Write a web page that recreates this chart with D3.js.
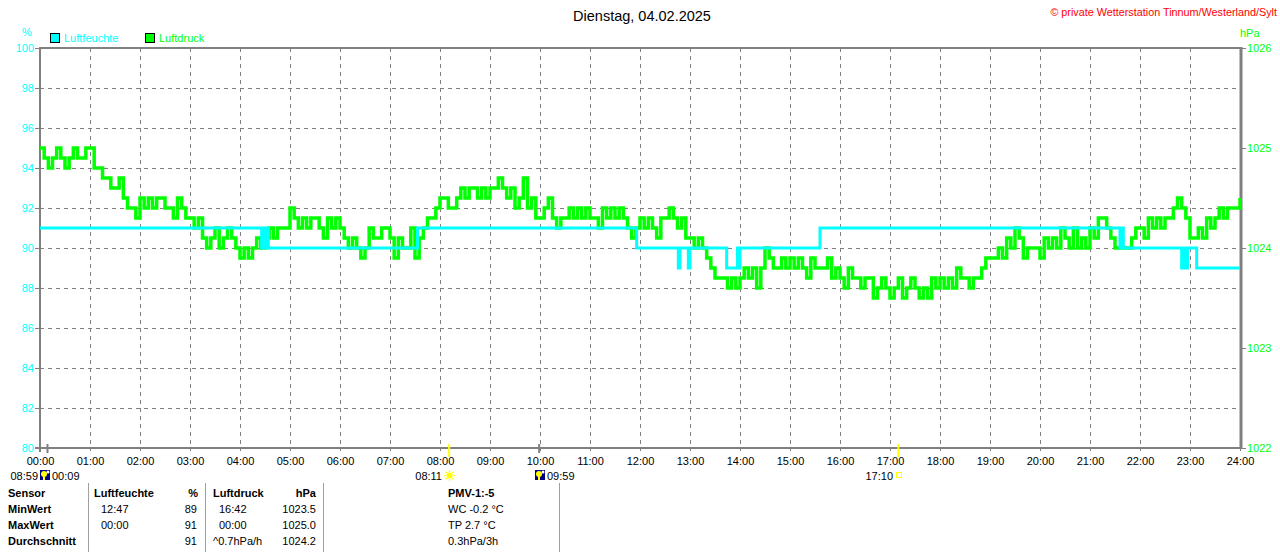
<!DOCTYPE html>
<html><head><meta charset="utf-8">
<script src="https://cdn.jsdelivr.net/npm/d3@7/dist/d3.min.js"></script>
<style>
html,body{margin:0;padding:0;background:#fff;}
svg{display:block;font-family:"Liberation Sans",Arial,sans-serif;}
</style></head>
<body>
<svg id="c" width="1280" height="552"></svg>
<script>
// ---------- DATA ----------
const titleText = "Dienstag, 04.02.2025";
const copyrightText = "\u00A9 private Wetterstation Tinnum/Westerland/Sylt";
const seriesNames = ["Luftfeuchte", "Luftdruck"];
const humTicks = [80,82,84,86,88,90,92,94,96,98,100];
const presTicks = [1022,1023,1024,1025,1026];
const hourMinutes = [0,60,120,180,240,300,360,420,480,540,600,660,720,780,840,900,960,1020,1080,1140,1200,1260,1320,1380,1440];
const hourLabels = ["00:00","01:00","02:00","03:00","04:00","05:00","06:00","07:00","08:00","09:00","10:00","11:00","12:00","13:00","14:00","15:00","16:00","17:00","18:00","19:00","20:00","21:00","22:00","23:00","24:00"];

// Luftdruck (hPa), one value every 5 minutes from 00:00 to 24:00
const pressure = [
1025.0,1024.9,1024.8,1024.9,1025.0,1024.9,1024.8,1024.9,1025.0,1024.9,1024.9,1025.0,
1025.0,1024.8,1024.8,1024.7,1024.7,1024.6,1024.6,1024.7,1024.5,1024.4,1024.4,1024.3,
1024.5,1024.4,1024.5,1024.4,1024.5,1024.5,1024.4,1024.4,1024.3,1024.5,1024.4,1024.3,
1024.3,1024.2,1024.3,1024.1,1024.0,1024.1,1024.2,1024.0,1024.1,1024.2,1024.1,1024.0,
1023.9,1024.0,1023.9,1024.0,1024.1,1024.0,1024.1,1024.2,1024.1,1024.2,1024.2,1024.2,
1024.4,1024.3,1024.2,1024.3,1024.2,1024.3,1024.3,1024.2,1024.1,1024.3,1024.2,1024.3,
1024.2,1024.1,1024.0,1024.1,1024.0,1023.9,1024.0,1024.2,1024.1,1024.1,1024.2,1024.2,
1024.1,1023.9,1024.1,1024.0,1024.0,1024.2,1023.9,1024.1,1024.2,1024.3,1024.3,1024.4,
1024.5,1024.5,1024.4,1024.4,1024.5,1024.6,1024.5,1024.6,1024.6,1024.5,1024.6,1024.5,
1024.6,1024.6,1024.7,1024.6,1024.5,1024.6,1024.4,1024.5,1024.7,1024.4,1024.5,1024.3,
1024.3,1024.4,1024.5,1024.3,1024.2,1024.3,1024.3,1024.4,1024.3,1024.4,1024.3,1024.4,
1024.3,1024.3,1024.2,1024.4,1024.3,1024.4,1024.3,1024.4,1024.3,1024.2,1024.1,1024.2,
1024.3,1024.2,1024.3,1024.2,1024.1,1024.3,1024.3,1024.4,1024.3,1024.2,1024.3,1024.1,
1024.1,1024.0,1024.1,1024.0,1023.9,1023.8,1023.7,1023.7,1023.7,1023.6,1023.7,1023.6,
1023.7,1023.8,1023.7,1023.8,1023.6,1023.8,1024.0,1023.9,1023.8,1023.8,1023.9,1023.8,
1023.9,1023.8,1023.9,1023.8,1023.7,1023.9,1023.8,1023.8,1023.8,1023.9,1023.7,1023.8,
1023.7,1023.6,1023.8,1023.7,1023.7,1023.6,1023.7,1023.7,1023.5,1023.6,1023.7,1023.6,
1023.5,1023.6,1023.7,1023.5,1023.6,1023.7,1023.6,1023.5,1023.6,1023.5,1023.7,1023.6,
1023.7,1023.6,1023.7,1023.6,1023.8,1023.7,1023.7,1023.6,1023.7,1023.7,1023.8,1023.9,
1023.9,1023.9,1024.0,1023.9,1024.1,1024.0,1024.2,1024.1,1023.9,1024.0,1024.0,1024.0,
1023.9,1024.1,1024.0,1024.1,1024.0,1024.2,1024.1,1024.0,1024.2,1024.0,1024.1,1024.0,
1024.2,1024.1,1024.3,1024.3,1024.2,1024.1,1024.0,1024.0,1024.0,1024.0,1024.1,1024.2,
1024.2,1024.1,1024.3,1024.2,1024.3,1024.2,1024.3,1024.3,1024.4,1024.5,1024.4,1024.3,
1024.1,1024.1,1024.2,1024.1,1024.3,1024.2,1024.3,1024.4,1024.3,1024.4,1024.4,1024.4,
1024.5
];

// Luftfeuchte (%), step changes: time of change and new value
const humTimes = ["00:00","04:26","04:28","04:30","04:32","04:34","07:33","07:35","11:56","12:46","12:48","12:58","13:00","13:44","13:57","13:58","14:00","15:36","21:36","21:38","21:40","22:50","22:52","22:55","22:57","23:08","24:00"];
const humValues = [91,90,91,90,91,90,91,91,90,89,90,89,90,89,90,89,90,91,90,91,90,89,90,89,90,89,89];

// Sun / moon events under the time axis
const moonEvents = ["00:09","09:59"];
const sunEvents = ["08:11","17:10"];

// Summary table
const tableCols = ["Sensor","Luftfeuchte","%","Luftdruck","hPa","PMV-1:-5"];
const rowNames = ["MinWert","MaxWert","Durchschnitt"];
const humTime = ["12:47","00:00",""];
const humVal = ["89","91","91"];
const presTime = ["16:42","00:00","^0.7hPa/h"];
const presVal = ["1023.5","1025.0","1024.2"];
const extraInfo = ["WC -0.2 \u00B0C","TP 2.7 \u00B0C","0.3hPa/3h"];

// ---------- DRAW ----------
const toMin = s => { const [h,m] = s.split(":").map(Number); return h*60+m; };
const svg = d3.select("#c");
const L = 40, R = 1240, T = 48, B = 448;
const cyan = "#00ffff", green = "#00ff00", grey = "#808080";

const x = d3.scaleLinear().domain([0,1440]).range([L,R]);
const yH = d3.scaleLinear().domain([80,100]).range([B,T]);
const yP = d3.scaleLinear().domain([1022,1026]).range([B,T]);

// title and copyright
svg.append("text").attr("x",642).attr("y",21).attr("text-anchor","middle")
  .attr("font-size",14.5).attr("fill","#000").text(titleText);
svg.append("text").attr("x",1277).attr("y",16).attr("text-anchor","end")
  .attr("font-size",10.8).attr("fill","#ff0000").text(copyrightText);

// unit labels
svg.append("text").attr("x",27).attr("y",36).attr("text-anchor","middle")
  .attr("font-size",11).attr("fill",cyan).text("%");
svg.append("text").attr("x",1240).attr("y",37)
  .attr("font-size",11).attr("fill",green).text("hPa");

// legend
const lg = [{x:50,c:cyan,t:seriesNames[0]},{x:145,c:green,t:seriesNames[1]}];
lg.forEach(d=>{
  svg.append("rect").attr("x",d.x+0.5).attr("y",33.5).attr("width",9).attr("height",9)
    .attr("fill",d.c).attr("stroke","#000").attr("stroke-width",1);
  svg.append("text").attr("x",d.x+14).attr("y",42).attr("font-size",11)
    .attr("fill",d.c).text(d.t);
});

// gridlines
const grid = svg.append("g");
humTicks.filter(v=>v>80 && v<100).forEach(v=>{
  grid.append("line").attr("x1",L).attr("x2",R).attr("y1",yH(v)+0.5).attr("y2",yH(v)+0.5)
    .attr("stroke",grey).attr("stroke-dasharray","4,4");
});
hourMinutes.filter(m=>m>0 && m<1440).forEach(m=>{
  grid.append("line").attr("x1",x(m)+0.5).attr("x2",x(m)+0.5).attr("y1",T).attr("y2",B)
    .attr("stroke",grey).attr("stroke-dasharray","4,4");
});

// axes
const axL = svg.append("g").attr("transform",`translate(${L},0)`)
  .call(d3.axisLeft(yH).tickValues(humTicks).tickSize(5).tickPadding(1).tickFormat(d3.format("d")));
axL.select(".domain").remove();
axL.selectAll("line").attr("stroke",grey);
axL.selectAll("text").attr("fill",cyan).attr("font-size",11).attr("font-family","Liberation Sans, Arial");

const axR = svg.append("g").attr("transform",`translate(${R},0)`)
  .call(d3.axisRight(yP).tickValues(presTicks).tickSize(6).tickPadding(1).tickFormat(d3.format("d")));
axR.select(".domain").remove();
axR.selectAll("line").attr("stroke",grey);
axR.selectAll("text").attr("fill",green).attr("font-size",11).attr("font-family","Liberation Sans, Arial");

const axB = svg.append("g").attr("transform",`translate(0,${B})`)
  .call(d3.axisBottom(x).tickValues(hourMinutes).tickSize(3).tickPadding(6).tickFormat((d,i)=>hourLabels[i]));
axB.select(".domain").remove();
axB.selectAll("line").attr("stroke",grey);
axB.selectAll("text").attr("fill","#000").attr("font-size",11).attr("font-family","Liberation Sans, Arial");

// frame
svg.append("line").attr("x1",L).attr("x2",R+1).attr("y1",T).attr("y2",T).attr("stroke",grey).attr("stroke-width",2);
svg.append("line").attr("x1",L).attr("x2",L).attr("y1",T-1).attr("y2",B+4).attr("stroke",grey).attr("stroke-width",2);
svg.append("line").attr("x1",R+1).attr("x2",R+1).attr("y1",T-1).attr("y2",B+1).attr("stroke",grey).attr("stroke-width",3);
svg.append("line").attr("x1",L-5).attr("x2",R+2).attr("y1",B).attr("y2",B).attr("stroke",grey).attr("stroke-width",2);

// data lines
const pData = pressure.map((v,i)=>({t:i*5,v}));
svg.append("path").datum(pData)
  .attr("d", d3.line().x(d=>x(d.t)).y(d=>yP(d.v)).curve(d3.curveStepAfter))
  .attr("fill","none").attr("stroke",green).attr("stroke-width",3.5);

const hData = humTimes.map((s,i)=>({t:toMin(s),v:humValues[i]}));
svg.append("path").datum(hData)
  .attr("d", d3.line().x(d=>x(d.t)).y(d=>yH(d.v)).curve(d3.curveStepAfter))
  .attr("fill","none").attr("stroke",cyan).attr("stroke-width",3);

// sun / moon markers
moonEvents.forEach(s=>{
  const px = x(toMin(s));
  svg.append("line").attr("x1",px).attr("x2",px).attr("y1",B-4).attr("y2",B+5).attr("stroke",grey).attr("stroke-width",2);
});
sunEvents.forEach(s=>{
  const px = x(toMin(s));
  svg.append("line").attr("x1",px).attr("x2",px).attr("y1",B-4).attr("y2",B+9).attr("stroke","#ffff00").attr("stroke-width",2);
});
function moonIcon(px){
  const g = svg.append("g").attr("transform",`translate(${px},470)`);
  g.append("rect").attr("width",10).attr("height",10).attr("fill","#000080");
  g.append("circle").attr("cx",4).attr("cy",4).attr("r",3).attr("fill","#ffff00");
  g.append("rect").attr("x",3).attr("y",4).attr("width",2).attr("height",6).attr("fill","#ffff00");
  g.append("circle").attr("cx",8).attr("cy",2).attr("r",1.5).attr("fill","#ffffff");
}
const evFont = 11;
// left: moon set / rise
svg.append("text").attr("x",38).attr("y",480).attr("text-anchor","end").attr("font-size",evFont).text("08:59");
moonIcon(40);
svg.append("text").attr("x",52).attr("y",480).attr("font-size",evFont).text(moonEvents[0]);
// sunrise
svg.append("text").attr("x",442).attr("y",480).attr("text-anchor","end").attr("font-size",evFont).text(sunEvents[0]);
svg.append("circle").attr("cx",449.5).attr("cy",475.5).attr("r",3).attr("fill","#ffff00");
svg.selectAll(".ray").data(d3.range(8)).enter().append("line")
  .attr("x1",d=>449.5+3.5*Math.cos(d*Math.PI/4)).attr("y1",d=>475.5+3.5*Math.sin(d*Math.PI/4))
  .attr("x2",d=>449.5+5.5*Math.cos(d*Math.PI/4)).attr("y2",d=>475.5+5.5*Math.sin(d*Math.PI/4))
  .attr("stroke","#ffff00").attr("stroke-width",1.2);
// moon rise
moonIcon(535);
svg.append("text").attr("x",547).attr("y",480).attr("font-size",evFont).text(moonEvents[1]);
// sunset
svg.append("text").attr("x",893).attr("y",480).attr("text-anchor","end").attr("font-size",evFont).text(sunEvents[1]);
svg.append("rect").attr("x",896.5).attr("y",472.5).attr("width",5).attr("height",5)
  .attr("fill","none").attr("stroke","#ffff00").attr("stroke-width",1);

// table dividers
[88,205,323,559].forEach(px=>{
  svg.append("line").attr("x1",px+0.5).attr("x2",px+0.5).attr("y1",483).attr("y2",552)
    .attr("stroke","#a0a0a0").attr("stroke-width",1);
});
const rowY = [497,513,529,545];
const tb = svg.append("g").attr("font-size",11).attr("fill","#000");
function t(xp,yp,s,anchor,bold){
  tb.append("text").attr("x",xp).attr("y",yp).attr("text-anchor",anchor||"start")
    .attr("font-weight",bold?"bold":"normal").text(s);
}
t(8,rowY[0],tableCols[0],"start",true);
t(94,rowY[0],tableCols[1],"start",true);
t(198,rowY[0],tableCols[2],"end",true);
t(213,rowY[0],tableCols[3],"start",true);
t(316,rowY[0],tableCols[4],"end",true);
t(448,rowY[0],tableCols[5],"start",true);
rowNames.forEach((r,i)=>{
  const yy = rowY[i+1];
  t(8,yy,r,"start",true);
  t(101,yy,humTime[i]);
  t(197,yy,humVal[i],"end");
  t(presTime[i].startsWith("^")?213:219,yy,presTime[i]);
  t(316,yy,presVal[i],"end");
  t(448,yy,extraInfo[i]);
});
</script>
</body></html>
